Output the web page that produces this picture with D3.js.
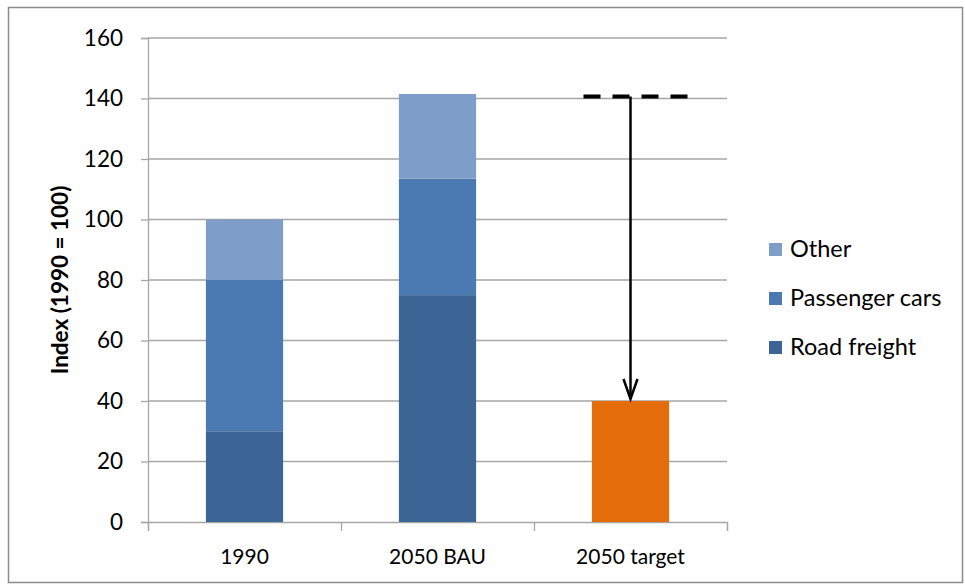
<!DOCTYPE html>
<html>
<head>
<meta charset="utf-8">
<script src="https://cdn.jsdelivr.net/npm/d3@7"></script>
<style>
  body { margin: 0; background: #fff; }
  text { font-family: Lato, "Open Sans", sans-serif; fill: #000; }
</style>
</head>
<body>
<svg id="chart" width="965" height="586"></svg>
<script>
// data
const categories = ['1990', '2050 BAU', '2050 target'];
const seriesNames = ['Road freight', 'Passenger cars', 'Other'];
const roadFreight = [30, 75, 0];
const passengerCars = [50, 38.5, 0];
const other = [20, 28, 0];
const target = [0, 0, 40];
const yTicks = [0, 20, 40, 60, 80, 100, 120, 140, 160];
const bauLevel = 140.7;
const targetLevel = 40;

const colors = {
  'Road freight': '#3c6494',
  'Passenger cars': '#4a7ab1',
  'Other': '#7f9dc9'
};
const targetColor = '#e46c0a';

const svg = d3.select('#chart');

// outer frame
svg.append('rect')
  .attr('x', 8.5).attr('y', 7.5)
  .attr('width', 954).attr('height', 575)
  .attr('fill', 'none').attr('stroke', '#8c8c8c').attr('stroke-width', 1.5);

const x = d3.scaleBand().domain(categories).range([148, 727]).paddingInner(0.6).paddingOuter(0.3);
const y = d3.scaleLinear().domain([0, 160]).range([522, 38]);

// gridlines
svg.append('g')
  .selectAll('line')
  .data(yTicks.slice(1))
  .join('line')
  .attr('x1', 148).attr('x2', 727)
  .attr('y1', d => y(d)).attr('y2', d => y(d))
  .attr('stroke', '#a6a6a6').attr('stroke-width', 1.3);

// y axis
const yAxis = svg.append('g')
  .attr('transform', 'translate(148,0)')
  .call(d3.axisLeft(y).tickValues(yTicks).tickSize(7).tickPadding(18));
yAxis.select('.domain').attr('stroke', '#a6a6a6').attr('stroke-width', 1.3);
yAxis.selectAll('.tick line').attr('stroke', '#a6a6a6').attr('stroke-width', 1.3);
yAxis.selectAll('text').attr('font-size', 22.5).attr('fill', '#000');

// x axis
const xb = d3.scaleLinear().domain([0, 3]).range([148, 727]);
const xAxis = svg.append('g')
  .attr('transform', 'translate(0,522)')
  .call(d3.axisBottom(xb).tickValues([0, 1, 2, 3]).tickSize(9).tickFormat(''));
xAxis.select('.domain').attr('stroke', '#a6a6a6').attr('stroke-width', 1.3);
xAxis.selectAll('.tick line').attr('stroke', '#a6a6a6').attr('stroke-width', 1.3);

svg.append('g')
  .selectAll('text')
  .data(categories)
  .join('text')
  .attr('x', d => x(d) + x.bandwidth() / 2)
  .attr('y', 564)
  .attr('text-anchor', 'middle')
  .attr('font-size', 21)
  .text(d => d);

// stacked bars
const rows = categories.map((c, i) => ({
  cat: c,
  'Road freight': roadFreight[i],
  'Passenger cars': passengerCars[i],
  'Other': other[i]
}));
const stacked = d3.stack().keys(seriesNames)(rows);

svg.append('g')
  .selectAll('g')
  .data(stacked)
  .join('g')
  .attr('fill', d => colors[d.key])
  .selectAll('rect')
  .data(d => d.filter(p => p[1] > p[0]))
  .join('rect')
  .attr('x', d => x(d.data.cat))
  .attr('width', x.bandwidth())
  .attr('y', d => y(d[1]))
  .attr('height', d => y(d[0]) - y(d[1]));

// target bar
svg.append('g')
  .selectAll('rect')
  .data(categories.map((c, i) => ({ cat: c, v: target[i] })).filter(d => d.v > 0))
  .join('rect')
  .attr('x', d => x(d.cat))
  .attr('width', x.bandwidth())
  .attr('y', d => y(d.v))
  .attr('height', d => y(0) - y(d.v))
  .attr('fill', targetColor);

// dashed BAU level over target and arrow down
const tx = x('2050 target') + x.bandwidth() / 2;
svg.append('line')
  .attr('x1', tx - 47).attr('x2', tx + 58)
  .attr('y1', y(bauLevel)).attr('y2', y(bauLevel))
  .attr('stroke', '#000').attr('stroke-width', 4)
  .attr('stroke-dasharray', '17 12');

svg.append('line')
  .attr('x1', tx).attr('x2', tx)
  .attr('y1', y(bauLevel)).attr('y2', y(targetLevel) - 2)
  .attr('stroke', '#000').attr('stroke-width', 2.5);
svg.append('path')
  .attr('d', `M${tx - 7},${y(targetLevel) - 22} L${tx},${y(targetLevel) - 2} L${tx + 7},${y(targetLevel) - 22}`)
  .attr('fill', 'none').attr('stroke', '#000').attr('stroke-width', 2.5);

// y label
svg.append('text')
  .attr('transform', 'translate(68,280) rotate(-90)')
  .attr('text-anchor', 'middle')
  .attr('font-size', 22.5)
  .attr('font-weight', 'bold')
  .text('Index (1990 = 100)');

// legend
const legendOrder = ['Other', 'Passenger cars', 'Road freight'];
const legendY = [249, 298, 347];
const lg = svg.append('g')
  .selectAll('g')
  .data(legendOrder)
  .join('g')
  .attr('transform', (d, i) => `translate(769,${legendY[i]})`);
lg.append('rect')
  .attr('x', 0).attr('y', -6)
  .attr('width', 13).attr('height', 13)
  .attr('fill', d => colors[d]);
lg.append('text')
  .attr('x', 21).attr('y', 8)
  .attr('font-size', 23.5)
  .text(d => d);
</script>
</body>
</html>
